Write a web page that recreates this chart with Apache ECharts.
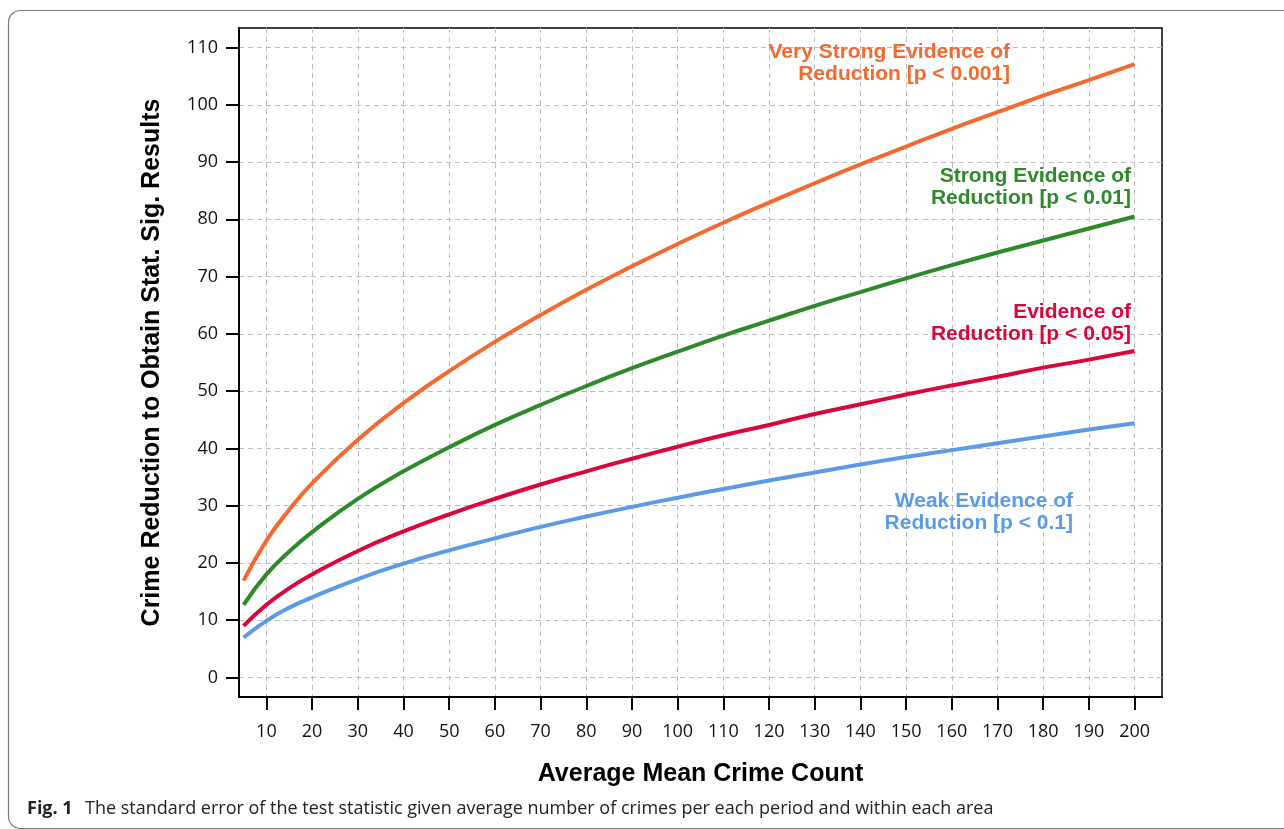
<!DOCTYPE html>
<html>
<head>
<meta charset="utf-8">
<title>Crime reduction chart</title>
<script src="https://cdn.jsdelivr.net/npm/echarts@6/dist/echarts.min.js"></script>
<style>
  html, body { margin: 0; padding: 0; background: #fff; }
  #main { width: 1284px; height: 829px; }
</style>
</head>
<body>
<div id="main"></div>
<script>
    // values
    var crimeCount = [5, 10, 15, 20, 30, 40, 50, 60, 70, 80, 90, 100, 110, 120, 130, 140, 150, 160, 170, 180, 190, 200];
    var veryStrong = [16.9, 23.9, 29.3, 33.9, 41.5, 47.9, 53.5, 58.6, 63.3, 67.7, 71.8, 75.7, 79.4, 82.9, 86.3, 89.6, 92.7, 95.8, 98.7, 101.6, 104.3, 107.1];
    var strong = [12.7, 18.0, 22.0, 25.4, 31.2, 36.0, 40.2, 44.1, 47.6, 50.9, 54.0, 56.9, 59.7, 62.3, 64.9, 67.3, 69.7, 72.0, 74.2, 76.3, 78.4, 80.5];
    var evidence = [9.0, 12.7, 15.6, 18.0, 22.1, 25.5, 28.5, 31.2, 33.7, 36.0, 38.2, 40.3, 42.3, 44.1, 46.0, 47.7, 49.4, 51.0, 52.5, 54.1, 55.5, 57.0];
    var weak = [7.0, 9.9, 12.2, 14.0, 17.2, 19.9, 22.2, 24.3, 26.3, 28.1, 29.8, 31.4, 32.9, 34.4, 35.8, 37.2, 38.5, 39.7, 40.9, 42.1, 43.3, 44.4];

    var xTicks = [10, 20, 30, 40, 50, 60, 70, 80, 90, 100, 110, 120, 130, 140, 150, 160, 170, 180, 190, 200];
    var yTicks = [0, 10, 20, 30, 40, 50, 60, 70, 80, 90, 100, 110];

    function pairs(ys) {
        return crimeCount.map(function (x, i) { return [x, ys[i]]; });
    }

    function curve(name, color, ys) {
        return {
            name: name,
            type: 'line',
            smooth: true,
            symbol: 'none',
            lineStyle: { color: color, width: 4 },
            data: pairs(ys)
        };
    }

    var labelFont = 'Liberation Sans, Arial, sans-serif';
    function note(lines, color, right, top) {
        return lines.map(function (t, i) {
            return {
                type: 'text',
                right: 1284 - right,
                top: top + i * 22,
                style: {
                    text: t,
                    fill: color,
                    font: 'bold 21px ' + labelFont,
                    textAlign: 'right'
                },
                z: 10
            };
        });
    }

    var myChart = echarts.init(document.getElementById('main'));
    var gridLine = { show: true, lineStyle: { color: '#bdbdbd', type: [5, 4], width: 1 } };
    var option = {
        animation: false,
        grid: {
            left: 239, top: 28, right: 122, bottom: 132,
            show: true, borderColor: '#000', borderWidth: 1.5, backgroundColor: '#fff'
        },
        xAxis: {
            type: 'value',
            min: 4,
            max: 206,
            name: 'Average Mean Crime Count',
            nameLocation: 'middle',
            nameGap: 65,
            nameTextStyle: { fontFamily: labelFont, fontWeight: 'bold', fontSize: 25, color: '#000' },
            axisLine: { show: true, onZero: false, lineStyle: { color: '#000', width: 2 } },
            axisTick: { show: true, length: 13, customValues: xTicks, lineStyle: { color: '#000', width: 2 } },
            axisLabel: { customValues: xTicks, margin: 26, fontSize: 18, color: '#111', fontFamily: 'Open Sans' },
            splitLine: gridLine
        },
        yAxis: {
            type: 'value',
            min: -3.4,
            max: 113.4,
            name: 'Crime Reduction to Obtain Stat. Sig. Results',
            nameLocation: 'middle',
            nameGap: 74,
            nameTextStyle: { fontFamily: labelFont, fontWeight: 'bold', fontSize: 25, color: '#000' },
            axisLine: { show: true, onZero: false, lineStyle: { color: '#000', width: 2 } },
            axisTick: { show: true, length: 13, customValues: yTicks, lineStyle: { color: '#000', width: 2 } },
            axisLabel: { customValues: yTicks, margin: 21, fontSize: 18, color: '#111', fontFamily: 'Open Sans' },
            splitLine: gridLine
        },
        series: [
            curve('Very Strong Evidence of Reduction [p < 0.001]', '#f26a30', veryStrong),
            curve('Strong Evidence of Reduction [p < 0.01]', '#2d8a2b', strong),
            curve('Evidence of Reduction [p < 0.05]', '#d8063b', evidence),
            curve('Weak Evidence of Reduction [p < 0.1]', '#5b9be6', weak)
        ],
        graphic: [
            {
                type: 'rect',
                shape: { x: 8.5, y: 10.5, width: 1320, height: 818, r: 12 },
                style: { fill: 'none', stroke: '#7a7a7a', lineWidth: 1.2 },
                silent: true
            },
            {
                type: 'text',
                left: 27,
                top: 800,
                style: {
                    text: '{b|Fig. 1}  The standard error of the test statistic given average number of crimes per each period and within each area',
                    font: '18px Open Sans',
                    fill: '#222',
                    rich: {
                        b: { fontFamily: 'Open Sans', fontWeight: 'bold', fontSize: 18, fill: '#222', padding: [0, 3, 0, 0] }
                    }
                }
            }
        ].concat(
            note(['Very Strong Evidence of', 'Reduction [p < 0.001]'], '#f26a30', 1010, 42),
            note(['Strong Evidence of', 'Reduction [p < 0.01]'], '#2d8a2b', 1131, 166),
            note(['Evidence of', 'Reduction [p < 0.05]'], '#d8063b', 1131, 302),
            note(['Weak Evidence of', 'Reduction [p < 0.1]'], '#5b9be6', 1073, 491)
        )
    };
    myChart.setOption(option);

    window.addEventListener('resize', function () {
        if (myChart != null && myChart != undefined) {
            myChart.resize();
        }
    });
</script>
</body>
</html>
